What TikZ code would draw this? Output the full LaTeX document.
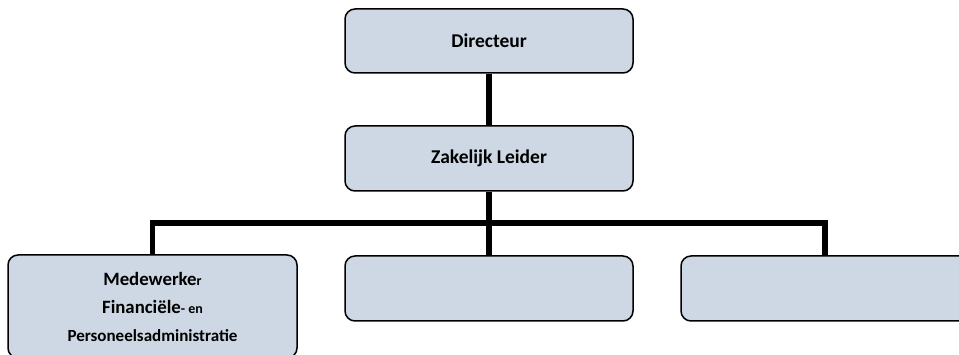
\documentclass[tikz,border=0pt]{standalone}
\usepackage{fontspec}
\setmainfont{Carlito}
\definecolor{boxfill}{RGB}{205,216,228}
\tikzset{
  orgbox/.style={draw=black, line width=1.5pt, fill=boxfill, rounded corners=10pt,
    minimum width=288pt, minimum height=65pt, inner sep=0pt, align=center,
    font=\bfseries\fontsize{19.5}{28}\selectfont},
  conn/.style={line width=5.5pt, draw=black, line join=miter}
}
\newcommand{\smallpart}[1]{{\fontsize{14}{28}\selectfont #1}}
\begin{document}
\begin{tikzpicture}[x=1pt,y=-1pt]
\clip (0,0) rectangle (959,355);
\useasboundingbox (0,0) rectangle (959,355);
\node[orgbox, minimum height=64pt] (dir) at (489,41) {Directeur};
\node[orgbox] (zl) at (489,158.5) {Zakelijk Leider};
\node[orgbox, minimum width=289pt, minimum height=103pt, font=\bfseries\fontsize{18.8}{28}\selectfont] (med) at (152.5,306.5)
  {Medewerke\smallpart{r}\\Financiële\smallpart{- en}\\{\fontsize{17}{28}\selectfont Personeelsadministratie}};
\node[orgbox] (mid) at (489,288.5) {};
\node[orgbox, minimum width=300pt] (rgt) at (831,288.5) {};
\coordinate (busL) at (152.5,223);
\coordinate (busM) at (489,223);
\coordinate (busR) at (825,223);
\coordinate (dropR) at (825,256);
\draw[conn] (dir.south) -- (zl.north);
\draw[conn] (zl.south) -- (busM) -- (mid.north);
\draw[conn] (med.north) -- (busL) -- (busR) -- (dropR);
\end{tikzpicture}
\end{document}
